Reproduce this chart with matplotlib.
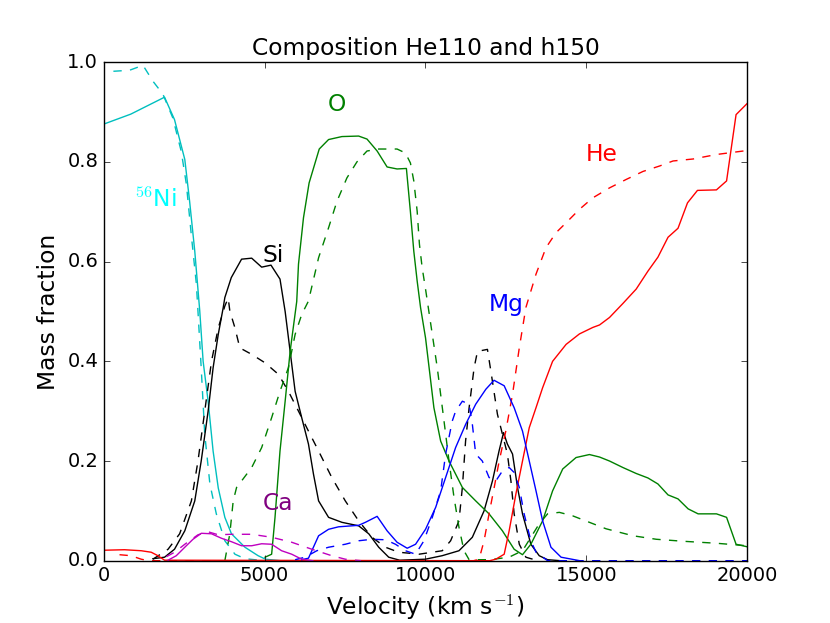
import numpy as np
import matplotlib
matplotlib.use('Agg')
import matplotlib.pyplot as plt

# velocity grid points (km/s) and mass fractions
# He110 model = solid lines, h150 model = dashed lines

ni_v = [0, 840, 1890, 2200, 2520, 2670, 2830, 2985, 3090, 3245, 3400, 3560, 3765, 3970, 4390, 4800, 5030, 5500]
ni_x = [0.876, 0.896, 0.930, 0.885, 0.805, 0.721, 0.621, 0.501, 0.40, 0.32, 0.22, 0.146, 0.087, 0.054, 0.027, 0.010, 0.003, 0.0]
ni_v2 = [300, 800, 1220, 1530, 1840, 2150, 2410, 2570, 2720, 2880, 2930, 3030, 3140, 3300, 3500, 3765, 4080, 4390, 5000]
ni_x2 = [0.982, 0.984, 0.994, 0.962, 0.936, 0.888, 0.821, 0.755, 0.655, 0.555, 0.50, 0.387, 0.254, 0.154, 0.094, 0.040, 0.013, 0.004, 0.0]

si_v = [1530, 1890, 2200, 2520, 2830, 3030, 3245, 3400, 3560, 3715, 3765, 3965, 4285, 4600, 4910, 5200, 5480,
        5640, 5795, 5950, 6155, 6365, 6520, 6680, 6990, 7405, 7925, 8240, 8550, 8860, 9200, 10000, 10520, 11045,
        11460, 11825, 12085, 12290, 12430, 12550, 12710, 12865, 13020, 13280, 13540, 13800, 14200]
si_x = [0.004, 0.007, 0.023, 0.06, 0.12, 0.20, 0.30, 0.387, 0.454, 0.508, 0.528, 0.568, 0.605, 0.607, 0.589, 0.593, 0.565,
        0.50, 0.42, 0.34, 0.287, 0.234, 0.174, 0.12, 0.087, 0.077, 0.07, 0.054, 0.027, 0.007, 0.001, 0.003, 0.01, 0.02,
        0.047, 0.10, 0.16, 0.22, 0.257, 0.234, 0.214, 0.147, 0.094, 0.033, 0.01, 0.002, 0.0]
si_v2 = [1530, 2000, 2360, 2725, 2930, 3140, 3350, 3560, 3765, 3870, 3920, 4080, 4230, 4600, 5015, 5430, 5740, 6055,
         6365, 6680, 7090, 7510, 7925, 8340, 8760, 9170, 9500, 9800, 10525, 10785, 11045, 11150, 11250, 11360, 11515,
         11620, 11930, 12085, 12240, 12395, 12550, 12660, 12760, 12920, 13125, 13500]
si_x2 = [0.003, 0.023, 0.054, 0.12, 0.20, 0.30, 0.40, 0.467, 0.511, 0.527, 0.501, 0.467, 0.427, 0.414, 0.397, 0.374, 0.34, 0.30,
         0.26, 0.22, 0.167, 0.12, 0.08, 0.047, 0.027, 0.017, 0.015, 0.013, 0.02, 0.04, 0.08, 0.147, 0.24, 0.307, 0.387,
         0.42, 0.424, 0.36, 0.294, 0.254, 0.214, 0.16, 0.094, 0.033, 0.007, 0.0]

o_v = [5015, 5220, 5325, 5480, 5640, 5795, 6000, 6055, 6210, 6385, 6700, 6990, 7405, 7925, 8185, 8500, 8810, 9120,
       9410, 9535, 9640, 9745, 9850, 10005, 10265, 10475, 10735, 11150, 11565, 11980, 12395, 12760, 13020, 13280,
       13645, 13955, 14270, 14685, 15100, 15415, 15725, 16140, 16555, 16920, 17230, 17545, 17855, 18170, 18480,
       19050, 19365, 19660, 20000]
o_x = [0.007, 0.013, 0.087, 0.22, 0.32, 0.42, 0.52, 0.595, 0.688, 0.758, 0.826, 0.845, 0.851, 0.852, 0.846, 0.822, 0.79, 0.786,
       0.787, 0.70, 0.621, 0.561, 0.508, 0.447, 0.307, 0.24, 0.20, 0.147, 0.12, 0.094, 0.06, 0.023, 0.012, 0.033,
       0.08, 0.14, 0.184, 0.207, 0.213, 0.208, 0.20, 0.187, 0.175, 0.166, 0.154, 0.132, 0.124, 0.104, 0.094,
       0.094, 0.087, 0.033, 0.028]
o_v2 = [3765, 3920, 4025, 4130, 4285, 4600, 4910, 5220, 5480, 5740, 5950, 6155, 6365, 6680, 6990, 7250, 7560, 7870,
        8185, 8550, 9120, 9380, 9535, 9640, 9745, 9815, 9900, 10005, 10215, 10370, 10580, 10735, 10890, 11045, 11200,
        11360, 12000, 12600, 13020, 13280, 13540, 13800, 14165, 14580, 15100, 15620, 16455, 17180, 18015, 19050, 20000]
o_x2 = [0.0, 0.054, 0.12, 0.147, 0.16, 0.187, 0.227, 0.287, 0.34, 0.387, 0.454, 0.494, 0.521, 0.608, 0.668, 0.721, 0.768, 0.80,
        0.822, 0.826, 0.826, 0.818, 0.798, 0.762, 0.701, 0.635, 0.588, 0.545, 0.454, 0.387, 0.28, 0.20, 0.127, 0.067, 0.02,
        0.002, 0.002, 0.007, 0.02, 0.047, 0.074, 0.094, 0.097, 0.09, 0.077, 0.064, 0.05, 0.043, 0.039, 0.035, 0.03]

he_v = [0, 645, 1165, 1475, 1685, 1890, 12000, 12190, 12450, 12605, 12815, 13020, 13230, 13440, 13645, 13955, 14375, 14790,
        15205, 15415, 15725, 16140, 16555, 16920, 17230, 17545, 17855, 18150, 18460, 19050, 19365, 19660, 20000]
he_x = [0.021, 0.022, 0.02, 0.017, 0.01, 0.001, 0.0, 0.003, 0.013, 0.06, 0.134, 0.20, 0.267, 0.307, 0.347, 0.40, 0.434, 0.455,
        0.468, 0.473, 0.488, 0.516, 0.545, 0.581, 0.609, 0.649, 0.667, 0.718, 0.743, 0.744, 0.762, 0.895, 0.917]
he_v2 = [490, 850, 1165, 1400, 11500, 11670, 11825, 11980, 12140, 12295, 12500, 12710, 12920, 13125, 13440, 13750, 14060,
         14375, 14790, 15205, 15725, 16245, 16765, 17285, 17700, 18325, 19050, 20000]
he_x2 = [0.012, 0.01, 0.003, 0.0, 0.0, 0.003, 0.04, 0.094, 0.147, 0.20, 0.26, 0.334, 0.427, 0.508, 0.575, 0.628, 0.658,
         0.678, 0.705, 0.728, 0.748, 0.765, 0.781, 0.792, 0.802, 0.806, 0.815, 0.823]

mg_v = [6155, 6365, 6680, 6990, 7300, 7925, 8135, 8500, 8810, 9120, 9435, 9695, 10005, 10320, 10630, 10940, 11255,
        11565, 11880, 12135, 12450, 12760, 13020, 13230, 13440, 13645, 13905, 14220, 14800]
mg_x = [0.002, 0.005, 0.05, 0.063, 0.068, 0.071, 0.077, 0.089, 0.06, 0.037, 0.025, 0.033, 0.063, 0.107, 0.167, 0.227, 0.274,
        0.314, 0.344, 0.362, 0.351, 0.307, 0.26, 0.20, 0.14, 0.08, 0.027, 0.007, 0.0]
mg_v2 = [5950, 6260, 6625, 6990, 7510, 7925, 8340, 8760, 9070, 9380, 9695, 9955, 10215, 10475, 10630, 10835, 10940,
         11150, 11360, 11460, 11565, 11770, 11980, 12190, 12395, 12605, 12760, 12920, 13070, 13280, 13440, 13800, 20000]
mg_x2 = [0.002, 0.007, 0.02, 0.027, 0.033, 0.04, 0.043, 0.042, 0.033, 0.02, 0.013, 0.04, 0.087, 0.14, 0.214, 0.28, 0.30,
         0.32, 0.314, 0.274, 0.214, 0.20, 0.167, 0.16, 0.18, 0.187, 0.177, 0.147, 0.094, 0.04, 0.017, 0.0, 0.0]

ca_v = [2000, 2255, 2520, 2775, 3035, 3350, 3660, 3975, 4285, 4600, 4910, 5220, 5530, 5845, 6155, 6500]
ca_x = [0.001, 0.01, 0.027, 0.043, 0.055, 0.054, 0.045, 0.038, 0.03, 0.03, 0.034, 0.033, 0.02, 0.013, 0.003, 0.0]
ca_v2 = [1945, 2205, 2520, 2930, 3245, 3560, 3970, 4600, 5220, 5845, 6470, 7090, 7510, 8000]
ca_x2 = [0.008, 0.017, 0.033, 0.052, 0.058, 0.052, 0.053, 0.053, 0.047, 0.037, 0.023, 0.01, 0.003, 0.0]

# element labels (text, x, y, colour)
labels = [('$^{56}$Ni', 1590, 0.725, 'cyan'),
          ('Si', 5270, 0.613, 'k'),
          ('O', 7240, 0.916, 'g'),
          ('Mg', 12510, 0.515, 'b'),
          ('He', 15475, 0.816, 'r'),
          ('Ca', 5430, 0.114, 'purple')]

# %%
plt.style.use('classic')
plt.rcParams['font.size'] = 14

fig = plt.figure(figsize=(8.3, 6.23), dpi=100)
ax = fig.add_subplot(111)

ax.plot(ni_v, ni_x, 'c-')
ax.plot(ni_v2, ni_x2, 'c--')
ax.plot(si_v, si_x, 'k-')
ax.plot(si_v2, si_x2, 'k--')
ax.plot(o_v, o_x, 'g-')
ax.plot(o_v2, o_x2, 'g--')
ax.plot(he_v, he_x, 'r-')
ax.plot(he_v2, he_x2, 'r--')
ax.plot(mg_v, mg_x, 'b-')
ax.plot(mg_v2, mg_x2, 'b--')
ax.plot(ca_v, ca_x, 'm-')
ax.plot(ca_v2, ca_x2, 'm--')

for txt, x, y, col in labels:
    ax.text(x, y, txt, color=col, ha='center', va='center', fontsize=16.8)

ax.set_xlim(0, 20000)
ax.set_ylim(0, 1.0)
ax.set_xticks([0, 5000, 10000, 15000, 20000])
ax.set_yticks([0.0, 0.2, 0.4, 0.6, 0.8, 1.0])
ax.set_xlabel('Velocity (km s$^{-1}$)', fontsize=16.8)
ax.set_ylabel('Mass fraction', fontsize=16.8)
ax.set_title('Composition He110 and h150')

plt.savefig('out.png', dpi=100)
